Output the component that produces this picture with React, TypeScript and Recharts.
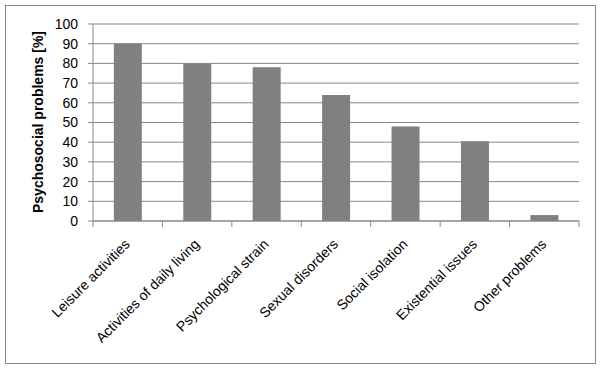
import React from 'react';
import { BarChart, Bar, XAxis, YAxis, CartesianGrid } from 'recharts';

const categories = [
  'Leisure activities',
  'Activities of daily living',
  'Psychological strain',
  'Sexual disorders',
  'Social isolation',
  'Existential issues',
  'Other problems',
];
const values = [90, 80, 78, 64, 48, 40.5, 3];
const yTicks = [0, 10, 20, 30, 40, 50, 60, 70, 80, 90, 100];
const yTitle = 'Psychosocial problems [%]';

const data = categories.map((name, i) => ({ name, value: values[i] }));

const W = 605;
const H = 373;
const margin = { top: 24, right: 26, left: 0, bottom: 12 };
const yAxisWidth = 93;
const plotWidth = W - margin.left - margin.right - yAxisWidth;
const step = plotWidth / categories.length;
const FONT = '"Liberation Sans", Arial, sans-serif';
const GRAY = '#888888';

const XTick = (props: any) => {
  const { x, y, payload, index } = props;
  const tx = x + 3;
  const ty = y + 24;
  return (
    <g>
      <line x1={x - step / 2} x2={x - step / 2} y1={y} y2={y + 6} stroke={GRAY} strokeWidth={1} />
      {index === categories.length - 1 && (
        <line x1={x + step / 2} x2={x + step / 2} y1={y} y2={y + 6} stroke={GRAY} strokeWidth={1} />
      )}
      <text
        x={tx}
        y={ty}
        textAnchor="end"
        transform={`rotate(-45, ${tx}, ${ty})`}
        fontSize={14}
        fontFamily={FONT}
        fill="#000"
      >
        {payload.value}
      </text>
    </g>
  );
};

const YTitle = () => (
  <text
    x={38}
    y={122}
    transform="rotate(-90, 38, 122)"
    textAnchor="middle"
    dominantBaseline="central"
    fontSize={14}
    fontWeight="bold"
    fontFamily={FONT}
    fill="#000"
  >
    {yTitle}
  </text>
);

export default function App() {
  return (
    <div style={{ position: 'absolute', left: 0, top: 0, width: W, height: H, background: '#fff' }}>
      <div
        style={{
          position: 'absolute',
          left: 5,
          top: 5,
          width: 591,
          height: 359,
          border: `1px solid ${GRAY}`,
          boxSizing: 'border-box',
        }}
      />
      <div style={{ position: 'absolute', left: 0, top: 0 }}>
        <BarChart width={W} height={H} data={data} margin={margin} barCategoryGap="30%">
          <CartesianGrid vertical={false} stroke={GRAY} strokeWidth={1} />
          <XAxis
            dataKey="name"
            interval={0}
            tickSize={0}
            tickMargin={0}
            tickLine={false}
            axisLine={{ stroke: GRAY }}
            height={140}
            tick={<XTick />}
          />
          <YAxis
            domain={[0, 100]}
            ticks={yTicks}
            interval={0}
            width={yAxisWidth}
            tickSize={5}
            tickMargin={10}
            axisLine={{ stroke: GRAY }}
            tickLine={{ stroke: GRAY }}
            tick={{ fontSize: 14, fontFamily: FONT, fill: '#000' }}
            label={{ content: () => <YTitle /> }}
          />
          <Bar dataKey="value" fill="#808080" isAnimationActive={false} />
        </BarChart>
      </div>
    </div>
  );
}
